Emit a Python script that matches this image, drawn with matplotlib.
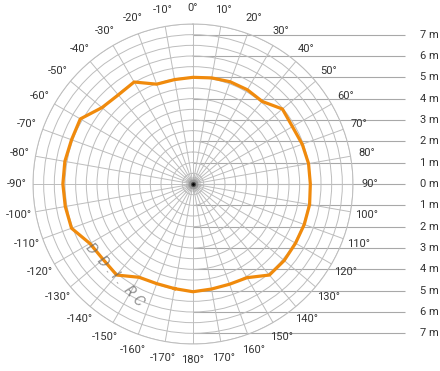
import numpy as np
import matplotlib
matplotlib.use("Agg")
import matplotlib.pyplot as plt

# angle (deg, clockwise from top) and detection range in metres
angles = [-170, -160, -150, -140, -130, -120, -110, -100, -90, -80, -70, -60,
          -50, -40, -30, -20, -10, 0, 10, 20, 30, 40, 50, 60,
          70, 80, 90, 100, 110, 120, 130, 140, 150, 160, 170, 180]
ranges = [4.98, 4.97, 5.05, 5.57, 5.50, 5.58, 6.06, 6.08, 6.10, 6.10, 6.06, 6.10,
          5.57, 5.45, 5.52, 4.98, 4.97, 5.00, 5.05, 5.10, 5.10, 5.05, 5.47, 5.38,
          5.45, 5.50, 5.50, 5.55, 5.55, 5.55, 5.58, 5.57, 5.07, 5.00, 5.00, 5.05]

angle_ticks = list(range(-170, 190, 10))
metre_levels = [7, 6, 5, 4, 3, 2, 1, 0]

plt.rcParams['font.family'] = ['Roboto', 'DejaVu Sans']

W, H = 440, 371
fig = plt.figure(figsize=(W / 100, H / 100), dpi=100)
fig.patch.set_facecolor('white')

cx, cy, R = 193, 184, 160   # centre / outer radius in pixels
rect = [(cx - R) / W, (H - cy - R) / H, 2 * R / W, 2 * R / H]
rmax = 7.5

# cartesian overlay for the metre lines on the right
ax2 = fig.add_axes(rect, zorder=0)
ax2.set_xlim(-rmax, rmax)
ax2.set_ylim(-rmax, rmax)
ax2.axis('off')
for m in metre_levels:
    ys = [m, -m] if m else [0]
    ax2.hlines(ys, 0, 9.95, color='#a8a8a8', lw=0.8, clip_on=False)
    for y in ys:
        ax2.text(10.65, y, f"{m} m", ha='left', va='center', fontsize=8,
                 color='#333333', clip_on=False)

ax = fig.add_axes(rect, projection='polar', zorder=1)
ax.patch.set_visible(False)
ax.set_theta_zero_location('N')
ax.set_theta_direction(-1)
ax.set_ylim(0, rmax)
ax.set_rticks(np.arange(0.5, rmax + 0.01, 0.5))
ax.set_yticklabels([])
ax.set_xticks(np.radians(np.arange(0, 360, 10)))
ax.set_xticklabels([])
ax.grid(True, color='#bdbdbd', lw=0.7)
ax.spines['polar'].set_color('#bdbdbd')
ax.spines['polar'].set_linewidth(0.7)
ax.tick_params(length=0)

# dark convergence spot at the centre
for s, a in [(120, 0.08), (50, 0.15), (14, 0.5), (4, 1.0)]:
    ax.scatter([0], [0], s=s, color='black', alpha=a, lw=0, zorder=2)

for a in angle_ticks:
    ax.text(np.radians(a), 8.27, f"{a}°", ha='center', va='center',
            fontsize=8, color='#333333', clip_on=False)

# faint handwritten mark in lower left
fig.text(115 / W, 1 - 275 / H, "D  D . l .  R C", rotation=-48, ha='center',
         va='center', fontsize=11, style='italic', color='#666666', alpha=0.7,
         zorder=5)

th = np.radians(angles + [angles[0]])
rr = ranges + [ranges[0]]
ax.plot(th, rr, color='#f08a0c', lw=2.3, solid_joinstyle='round', zorder=3)

fig.savefig('out.png', dpi=100, facecolor='white')
